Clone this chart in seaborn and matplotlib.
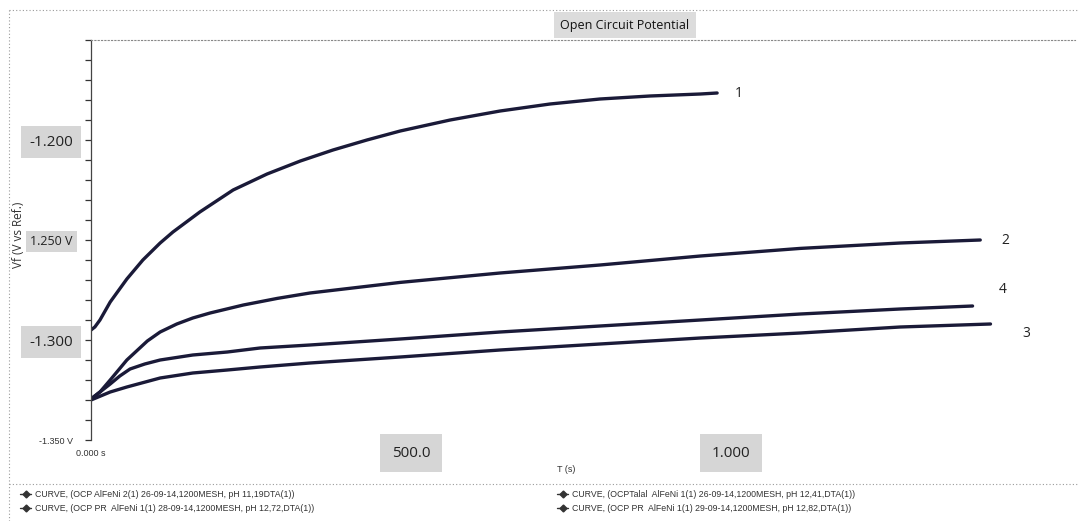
import matplotlib
matplotlib.use('Agg')
import matplotlib.pyplot as plt
from matplotlib.lines import Line2D
from matplotlib.ticker import MultipleLocator, FixedLocator, FixedFormatter
import seaborn as sns
import numpy as np
import pandas as pd

# Open circuit potential curves (time in s, potential in V)
t1 = [0, 6, 14, 30, 56, 81, 108, 128, 170, 222, 275, 327, 378, 431, 483, 561, 639, 717, 795, 873, 952, 978]
v1 = [-1.2950, -1.2935, -1.2900, -1.2810, -1.2695, -1.2600, -1.2515, -1.2460, -1.2360, -1.2250, -1.2170,
      -1.2105, -1.2050, -1.2000, -1.1955, -1.1900, -1.1855, -1.1820, -1.1795, -1.1780, -1.1770, -1.1765]

t2 = [0, 14, 30, 56, 88, 108, 134, 159, 186, 238, 291, 342, 483, 639, 795, 952, 1108, 1264, 1389]
v2 = [-1.3295, -1.3260, -1.3200, -1.3100, -1.3005, -1.2960, -1.2920, -1.2890, -1.2865, -1.2825, -1.2792,
      -1.2765, -1.2712, -1.2665, -1.2625, -1.2580, -1.2542, -1.2515, -1.2500]

t3 = [0, 30, 56, 108, 159, 213, 264, 342, 483, 639, 795, 952, 1108, 1264, 1405]
v3 = [-1.3300, -1.3260, -1.3235, -1.3190, -1.3165, -1.3150, -1.3135, -1.3115, -1.3085, -1.3050, -1.3020,
      -1.2990, -1.2965, -1.2935, -1.2920]

t4 = [0, 14, 30, 45, 61, 84, 108, 159, 213, 264, 342, 483, 639, 795, 952, 1108, 1264, 1377]
v4 = [-1.3295, -1.3260, -1.3220, -1.3180, -1.3145, -1.3120, -1.3100, -1.3075, -1.3060, -1.3040, -1.3025,
      -1.2995, -1.2960, -1.2930, -1.2900, -1.2870, -1.2845, -1.2830]

curve_ids = ['1', '2', '3', '4']
legend_names = [
    'CURVE, (OCP AlFeNi 2(1) 26-09-14,1200MESH, pH 11,19DTA(1))',
    'CURVE, (OCP PR  AlFeNi 1(1) 28-09-14,1200MESH, pH 12,72,DTA(1))',
    'CURVE, (OCPTalal  AlFeNi 1(1) 26-09-14,1200MESH, pH 12,41,DTA(1))',
    'CURVE, (OCP PR  AlFeNi 1(1) 29-09-14,1200MESH, pH 12,82,DTA(1))',
]
x_ticks = [0, 500, 1000]
x_ticklabels = ['0.000 s', '500.0', '1.000']
y_ticks = [-1.35, -1.30, -1.25, -1.20]
y_ticklabels = ['-1.350 V', '-1.300', '1.250 V', '-1.200']

rows = []
for cid, ts, vs in zip(curve_ids, [t1, t2, t3, t4], [v1, v2, v3, v4]):
    for t, v in zip(ts, vs):
        rows.append({'curve': cid, 't': t, 'V': v})
df = pd.DataFrame(rows)

sns.set_theme(style='white')
plt.rcParams['font.family'] = ['Liberation Sans', 'DejaVu Sans']

navy = '#1a1a38'
fig = plt.figure(figsize=(10.78, 5.21), dpi=100)
ax = fig.add_axes([91 / 1078, 81 / 521, 984 / 1078, 400 / 521])

sns.lineplot(data=df, x='t', y='V', hue='curve', palette=[navy] * 4, linewidth=2.4,
             legend=False, ax=ax, sort=False, estimator=None)
for ln in ax.get_lines():
    ln.set_solid_joinstyle('round')
    ln.set_solid_capstyle('round')

ax.set_xlim(0, 1537)
ax.set_ylim(-1.35, -1.15)
ax.set_xlabel('')
ax.set_ylabel('')

# spines: dotted top border, solid left axis only
for s in ['right', 'bottom']:
    ax.spines[s].set_visible(False)
ax.spines['top'].set_linestyle((0, (1, 2)))
ax.spines['top'].set_color('#888888')
ax.spines['top'].set_linewidth(0.8)
ax.spines['left'].set_color('#444444')
ax.spines['left'].set_linewidth(0.9)

ax.yaxis.set_major_locator(FixedLocator(y_ticks))
ax.yaxis.set_major_formatter(FixedFormatter(y_ticklabels))
ax.yaxis.set_minor_locator(MultipleLocator(0.01))
ax.tick_params(axis='y', which='both', left=True, length=4, width=0.9, color='#333333',
               direction='out', pad=9)
ax.xaxis.set_major_locator(FixedLocator(x_ticks))
ax.xaxis.set_major_formatter(FixedFormatter(x_ticklabels))
ax.tick_params(axis='x', which='both', bottom=False, length=0, pad=9.5)

for lab in ax.get_yticklabels():
    txt = lab.get_text()
    if txt == '-1.350 V':
        lab.set_fontsize(6.5)
        lab.set_color('#333333')
    else:
        lab.set_family(['Open Sans', 'DejaVu Sans'])
        lab.set_color('#222222')
        if txt == '1.250 V':
            lab.set_fontsize(9)
            lab.set_bbox(dict(boxstyle='square,pad=0.35', facecolor='#d6d6d6', edgecolor='none'))
        else:
            lab.set_fontsize(11)
            lab.set_bbox(dict(boxstyle='square,pad=0.55', facecolor='#d6d6d6', edgecolor='none'))

for lab in ax.get_xticklabels():
    lab.set_va('center')
    if lab.get_text() == '0.000 s':
        lab.set_fontsize(6.5)
        lab.set_color('#333333')
    else:
        lab.set_fontsize(11)
        lab.set_family(['Open Sans', 'DejaVu Sans'])
        lab.set_color('#222222')
        lab.set_bbox(dict(boxstyle='square,pad=0.75', facecolor='#d6d6d6', edgecolor='none'))

# curve numbers next to the line ends
offsets = {'1': (13, 0), '2': (15, 0), '3': (23, -7), '4': (19, 12)}
for cid in curve_ids:
    sub = df[df['curve'] == cid]
    ax.annotate(cid, (sub['t'].iloc[-1], sub['V'].iloc[-1]), xytext=offsets[cid],
                textcoords='offset points', ha='left', va='center', fontsize=10,
                family=['Open Sans', 'DejaVu Sans'], color='#222222')

fig.text(625 / 1078, 1 - 25 / 521, 'Open Circuit Potential', ha='center', va='center', fontsize=9,
         family=['Open Sans', 'DejaVu Sans'], color='#111111',
         bbox=dict(boxstyle='square,pad=0.5', facecolor='#dcdcdc', edgecolor='none'))
fig.text(19 / 1078, 1 - 235 / 521, 'Vf (V vs Ref.)', rotation=90, ha='center', va='center',
         fontsize=8.5, family=['Open Sans', 'DejaVu Sans'], color='#333333')
fig.text(566 / 1078, 1 - 470 / 521, 'T (s)', ha='center', va='center', fontsize=6.5, color='#333333')

# chart frame lines from the scan
dotted = dict(transform=fig.transFigure, color='#9a9a9a', lw=0.8, ls=(0, (1, 2)))
fig.add_artist(Line2D([9 / 1078, 1], [1 - 484 / 521] * 2, **dotted))
fig.add_artist(Line2D([9 / 1078, 1], [1 - 10 / 521] * 2, **dotted))
fig.add_artist(Line2D([9 / 1078] * 2, [0, 1 - 10 / 521], **dotted))

# legend: two columns under the separator
handles = [Line2D([], [], color='#333333', lw=1, marker='D', markersize=3.5) for _ in legend_names]
leg_kw = dict(frameon=False, fontsize=6.3, handlelength=1.2, handletextpad=0.5, labelspacing=0.55,
              borderpad=0, loc='upper left', labelcolor='#333333')
fig.legend(handles[:2], legend_names[:2], bbox_to_anchor=(16 / 1078, 1 - 486 / 521), **leg_kw)
fig.legend(handles[2:], legend_names[2:], bbox_to_anchor=(553 / 1078, 1 - 486 / 521), **leg_kw)

fig.savefig('out.png', dpi=100)
